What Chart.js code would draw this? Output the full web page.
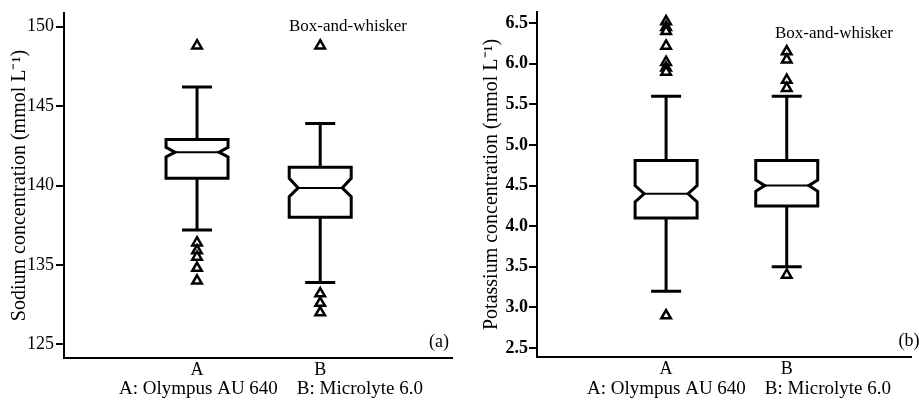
<!DOCTYPE html>
<html>
<head>
<meta charset="utf-8">
<script src="https://cdn.jsdelivr.net/npm/chart.js@4.4.1/dist/chart.umd.min.js"></script>
<style>
html, body { margin: 0; padding: 0; background: #fff; }
#wrap { position: relative; width: 919px; height: 402px; }
.panel { position: absolute; top: 0; height: 402px; }
</style>
</head>
<body>
<div id="wrap">
  <div class="panel" style="left:0;width:460px"><canvas id="sodium"></canvas></div>
  <div class="panel" style="left:460px;width:459px"><canvas id="potassium"></canvas></div>
</div>
<script>
// categories (A = Olympus AU 640, B = Microlyte 6.0)
const instruments = ['A', 'B'];

// sodium box stats, mmol/L
const naLow = [137.2, 133.9];
const naQ1 = [140.45, 138.0];
const naMedian = [142.1, 139.85];
const naQ3 = [142.9, 141.15];
const naHigh = [146.2, 143.9];
const naNotchLo = [141.8, 139.3];
const naNotchHi = [142.4, 140.45];
const naOutliersA = [148.8, 136.4, 135.9, 135.5, 134.8, 134.0];
const naOutliersB = [148.8, 133.2, 132.6, 132.0];
const naTicks = [130, 135, 140, 145, 150];
const naTickLabels = ['125', '135', '140', '145', '150'];

// potassium box stats, mmol/L
const kLow = [3.2, 3.5];
const kQ1 = [4.1, 4.25];
const kMedian = [4.4, 4.5];
const kQ3 = [4.81, 4.81];
const kHigh = [5.6, 5.6];
const kNotchLo = [4.3, 4.43];
const kNotchHi = [4.5, 4.57];
const kOutliersA = [6.52, 6.45, 6.4, 6.22, 6.02, 5.95, 5.9, 2.9];
const kOutliersB = [6.15, 6.05, 5.8, 5.7, 3.4];
const kTicks = [2.5, 3.0, 3.5, 4.0, 4.5, 5.0, 5.5, 6.0, 6.5];

const FONT = "'Liberation Serif', 'Times New Roman', serif";

// draws notched boxes from the stats given in chart options
const boxPlugin = {
  id: 'notchedBoxes',
  beforeDatasetsDraw(chart, args, o) {
    const ctx = chart.ctx;
    const x = chart.scales.x, y = chart.scales.y;
    const hw = 31, nd = 9, cap = 15;
    ctx.save();
    ctx.strokeStyle = '#000';
    ctx.lineJoin = 'miter';
    o.median.forEach((m, i) => {
      const xc = x.getPixelForValue(i + 1);
      const yq1 = y.getPixelForValue(o.q1[i]);
      const yq3 = y.getPixelForValue(o.q3[i]);
      const ym = y.getPixelForValue(m);
      const ynl = y.getPixelForValue(o.notchLo[i]);
      const ynh = y.getPixelForValue(o.notchHi[i]);
      const ylo = y.getPixelForValue(o.low[i]);
      const yhi = y.getPixelForValue(o.high[i]);
      // whiskers
      ctx.lineWidth = 3;
      ctx.beginPath();
      ctx.moveTo(xc, yq3); ctx.lineTo(xc, yhi);
      ctx.moveTo(xc - cap, yhi); ctx.lineTo(xc + cap, yhi);
      ctx.moveTo(xc, yq1); ctx.lineTo(xc, ylo);
      ctx.moveTo(xc - cap, ylo); ctx.lineTo(xc + cap, ylo);
      ctx.stroke();
      // notched box
      ctx.beginPath();
      ctx.moveTo(xc - hw, yq3);
      ctx.lineTo(xc + hw, yq3);
      ctx.lineTo(xc + hw, ynh);
      ctx.lineTo(xc + hw - nd, ym);
      ctx.lineTo(xc + hw, ynl);
      ctx.lineTo(xc + hw, yq1);
      ctx.lineTo(xc - hw, yq1);
      ctx.lineTo(xc - hw, ynl);
      ctx.lineTo(xc - hw + nd, ym);
      ctx.lineTo(xc - hw, ynh);
      ctx.closePath();
      ctx.fillStyle = '#fff';
      ctx.fill();
      ctx.stroke();
      // median
      ctx.lineWidth = 2;
      ctx.beginPath();
      ctx.moveTo(xc - hw + nd, ym); ctx.lineTo(xc + hw - nd, ym);
      ctx.stroke();
    });
    ctx.restore();
  },
  afterDraw(chart, args, o) {
    const ctx = chart.ctx, a = chart.chartArea;
    ctx.save();
    ctx.fillStyle = '#000';
    ctx.textBaseline = 'middle';
    ctx.textAlign = 'center';
    ctx.font = '17px ' + FONT;
    ctx.fillText('Box-and-whisker', a.left + o.noteX, a.top + o.noteY);
    ctx.font = '18px ' + FONT;
    ctx.fillText(o.panel, a.left + o.panelX, a.bottom - 16);
    ctx.font = '19px ' + FONT;
    ctx.fillText('A: Olympus AU 640    B: Microlyte 6.0', a.left + o.captionX, 389);
    ctx.restore();
  }
};

function makeChart(id, cfg) {
  const tri = (vals, xv) => vals.map(v => ({ x: xv, y: v }));
  return new Chart(document.getElementById(id), {
    type: 'scatter',
    data: {
      datasets: [
        { data: tri(cfg.outA, 1) },
        { data: tri(cfg.outB, 2) }
      ]
    },
    options: {
      responsive: true,
      maintainAspectRatio: false,
      animation: false,
      layout: { padding: cfg.padding },
      elements: {
        point: {
          pointStyle: 'triangle', radius: 5.5, borderWidth: 2.5,
          borderColor: '#000', backgroundColor: '#fff', hoverRadius: 5.5
        }
      },
      plugins: {
        legend: { display: false },
        tooltip: { enabled: false },
        notchedBoxes: cfg.boxes
      },
      scales: {
        x: {
          type: 'linear', min: cfg.xMin, max: cfg.xMax,
          afterBuildTicks: s => { s.ticks = [{ value: 1 }, { value: 2 }]; },
          afterFit: s => { s.height = cfg.xHeight; },
          grid: { display: false, drawTicks: false },
          border: { display: true, color: '#000', width: 2 },
          ticks: {
            color: '#000', padding: 1, font: { family: FONT, size: 18 },
            callback: v => instruments[v - 1]
          }
        },
        y: {
          min: cfg.yMin, max: cfg.yMax,
          afterBuildTicks: s => { s.ticks = cfg.ticks.map(v => ({ value: v })); },
          afterFit: s => { s.width = cfg.yWidth; },
          grid: { drawOnChartArea: false, drawTicks: true, tickLength: 8, color: '#000', lineWidth: 2 },
          border: { display: true, color: '#000', width: 2 },
          title: {
            display: true, text: cfg.yTitle, color: '#000',
            font: { family: FONT, size: 20 }, padding: { top: cfg.titlePad, bottom: 0 }
          },
          ticks: {
            color: '#000', padding: cfg.tickPad,
            font: { family: FONT, size: 18, weight: cfg.tickWeight },
            callback: cfg.tickLabel
          }
        }
      }
    },
    plugins: [boxPlugin]
  });
}

makeChart('sodium', {
  outA: naOutliersA, outB: naOutliersB,
  xMin: -0.08, xMax: 3.07, yMin: 129.14, yMax: 150.86,
  ticks: naTicks,
  tickLabel: v => naTickLabels[naTicks.indexOf(v)],
  tickWeight: 'normal', tickPad: 2,
  yTitle: 'Sodium concentration (mmol L\u207B\u00B9)',
  titlePad: 8, yWidth: 64, xHeight: 44,
  padding: { top: 13, right: 8, left: 0, bottom: 0 },
  boxes: {
    low: naLow, q1: naQ1, median: naMedian, q3: naQ3, high: naHigh,
    notchLo: naNotchLo, notchHi: naNotchHi,
    panel: '(a)', noteX: 284, noteY: 14, panelX: 375, captionX: 207
  }
});

makeChart('potassium', {
  outA: kOutliersA, outB: kOutliersB,
  xMin: -0.07, xMax: 3.03, yMin: 2.39, yMax: 6.64,
  ticks: kTicks,
  tickLabel: v => v.toFixed(1),
  tickWeight: 'bold', tickPad: 1,
  yTitle: 'Potassium concentration (mmol L\u207B\u00B9)',
  titlePad: 20, yWidth: 77, xHeight: 45,
  padding: { top: 10, right: 0, left: 0, bottom: 0 },
  boxes: {
    low: kLow, q1: kQ1, median: kMedian, q3: kQ3, high: kHigh,
    notchLo: kNotchLo, notchHi: kNotchHi,
    panel: '(b)', noteX: 297, noteY: 22, panelX: 372, captionX: 202
  }
});
</script>
</body>
</html>
